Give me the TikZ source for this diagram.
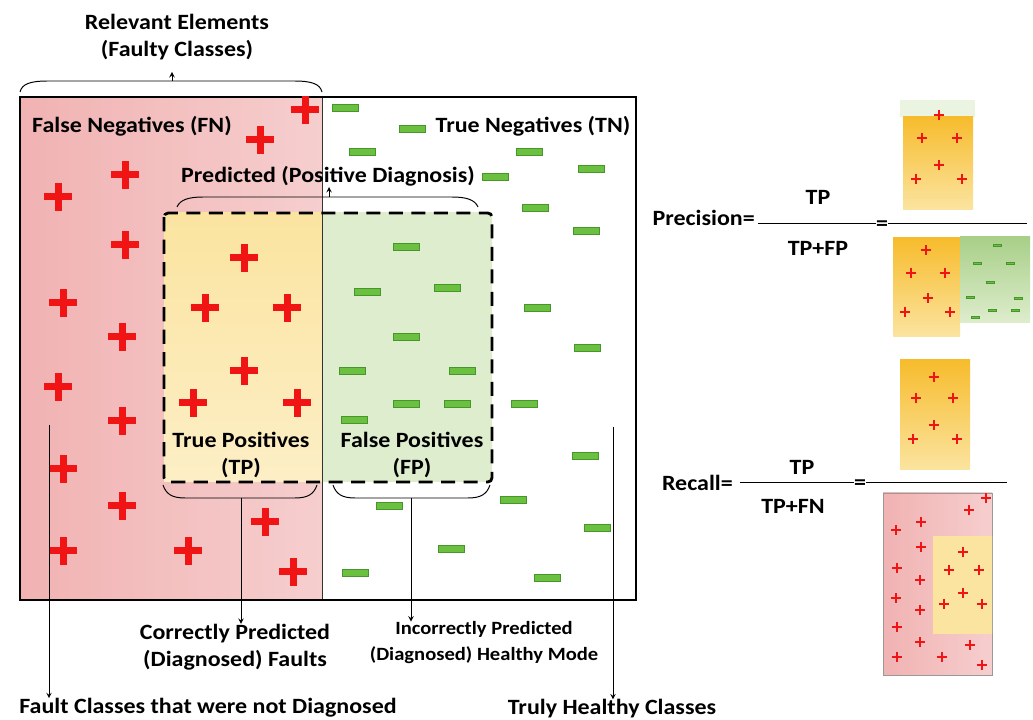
\documentclass[tikz,border=0pt]{standalone}
\usepackage{fontspec}
\setmainfont{Carlito}[FakeStretch=1.1]
\usetikzlibrary{positioning, arrows}
\definecolor{fn_deep}{RGB}{241,178,178}
\definecolor{fn_light}{RGB}{246,206,206}
\definecolor{tp_pale}{RGB}{251,228,160}
\definecolor{tp_core}{RGB}{247,188,45}
\definecolor{fp_pale}{RGB}{222,237,205}
\definecolor{fp_core}{RGB}{168,207,136}
\definecolor{minus_green}{RGB}{108,192,64}
\definecolor{minus_edge}{RGB}{70,150,45}
\definecolor{plus_red}{RGB}{240,20,20}
\tikzset{
    label_text/.style={font=\fontsize{15.5}{19}\selectfont\bfseries, text centered, align=center, inner sep=0pt},
    note_text/.style={font=\fontsize{13.3}{18.5}\selectfont\bfseries, text centered, align=center, inner sep=0pt},
    arrow/.style={line width=0.7pt, ->, >=stealth},
    brace_line/.style={line width=0.7pt},
    box_line/.style={line width=1.3pt},
    predicted_line/.style={line width=2pt, dash pattern=on 10pt off 6pt, rounded corners=3},
    faultplus/.pic={
        \fill[plus_red] (-14,-3.5) rectangle (14,3.5);
        \fill[plus_red] (-3.5,-14) rectangle (3.5,14);
    },
    healthyminus/.pic={
        \filldraw[fill=minus_green, draw=minus_edge, line width=0.5pt] (-13,-3.5) rectangle (13,3.5);
    },
}

\begin{document}
\begin{tikzpicture}[x=0.025cm, y=-0.025cm]
            \useasboundingbox (0,0) rectangle (1033,720);
            %%%%%%%%%%%%%%%%
            % MAIN REGIONS %
            %%%%%%%%%%%%%%%%
            \shade [left color=fn_deep, right color=fn_light] (20,97) rectangle (322,600);
            \shade [top color=tp_pale, middle color=tp_core, bottom color=tp_pale!60!white] (164,213) rectangle (322,482);
            \shade [top color=fp_pale, middle color=fp_core, bottom color=fp_pale] (322,213) rectangle (492,482);
            \draw [line width=0.7pt, black!80] (322,97) -- (322,600);
            \draw [box_line] (20,97) rectangle (636,600);

            \foreach \x/\y in {305/110, 260/140, 125/175, 58/197, 125/245, 244/258, 63/303,
                    205/308, 287/308, 122/337, 244/371, 58/387, 193/403, 297/403, 122/421,
                    63/469, 122/506, 265/522, 63/551, 188/551, 293/572}
                \pic at (\x,\y) {faultplus};
            \foreach \x/\y in {345/108, 412/129, 362/152, 529/152, 495/177, 591/169, 535/208,
                    586/231, 406/247, 367/292, 447/288, 406/337, 537/308, 587/348, 352/371,
                    462/371, 406/404, 457/404, 524/404, 354/420, 585/456, 513/500, 389/506,
                    597/528, 451/549, 355/573, 547/578}
                \pic at (\x,\y) {healthyminus};

            \draw [predicted_line] (164,213) rectangle (492,482);

            %%%%%%%%%%%%%%%%%
            % REGION LABELS %
            %%%%%%%%%%%%%%%%%
            \node (fn_text) [label_text] at (132,126) {False Negatives (FN)};
            \node (tn_text) [label_text] at (533,126) {True Negatives (TN)};
            \node (tp_text) [label_text] at (241,455) {True Positives \\ (TP)};
            \node (fp_text) [label_text] at (412,455) {False Positives \\ (FP)};

            %%%%%%%%%%
            % BRACES %
            %%%%%%%%%%
            \node (relevant_text) [label_text] at (177,37) {Relevant Elements \\ (Faulty Classes)};
            \coordinate (relevant_mid) at (172,81);
            \coordinate (relevant_tip) at (172,72);
            \draw [brace_line] (20,92) .. controls (22,84) and (30,81) .. (48,81)
                    -- (294,81) .. controls (312,81) and (320,84) .. (322,92);
            \draw [arrow] (relevant_mid) -- (relevant_tip);

            \node (predicted_text) [label_text] at (328,176) {Predicted (Positive Diagnosis)};
            \coordinate (predicted_mid) at (329,197);
            \coordinate (predicted_tip) at (329,187);
            \draw [brace_line] (177,207) .. controls (180,200) and (188,197) .. (203,197)
                    -- (452,197) .. controls (467,197) and (475,200) .. (478,207);
            \draw [arrow] (predicted_mid) -- (predicted_tip);

            \node (correct_text) [label_text] at (235,647) {Correctly Predicted \\ (Diagnosed) Faults};
            \coordinate (tp_mid) at (241,498);
            \draw [brace_line] (163,485) .. controls (166,494) and (172,498) .. (185,498)
                    -- (295,498) .. controls (308,498) and (314,494) .. (317,485);
            \draw [arrow] (tp_mid) -- (tp_mid |- correct_text.north);

            \node (incorrect_text) [note_text] at (484,643) {Incorrectly Predicted \\ (Diagnosed) Healthy Mode};
            \coordinate (fp_mid) at (411,498);
            \draw [brace_line] (333,485) .. controls (336,494) and (342,498) .. (355,498)
                    -- (468,498) .. controls (481,498) and (487,494) .. (490,485);
            \draw [arrow] (fp_mid) -- (fp_mid |- incorrect_text.north);

            \node (fault_text) [label_text] at (208,708) {Fault Classes that were not Diagnosed};
            \coordinate (fault_start) at (49,425);
            \draw [arrow] (fault_start) -- (fault_start |- fault_text.north);

            \node (healthy_text) [label_text] at (612,709) {Truly Healthy Classes};
            \coordinate (healthy_start) at (613,427);
            \draw [arrow] (healthy_start) -- (healthy_start |- healthy_text.north);

            %%%%%%%%%%%%%
            % PRECISION %
            %%%%%%%%%%%%%
            \node (precision_text) [label_text, anchor=east] at (755,218) {Precision=};
            \node (precision_num) [label_text] at (818,197) {TP};
            \node (precision_den) [label_text] at (818,248) {TP+FP};
            \node (precision_eq) [label_text] at (882,226) {=};
            \draw [line width=0.7pt] (758,223) -- (precision_eq.west |- 0,223);
            \draw [line width=0.7pt] (precision_eq.east |- 0,223) -- (1027,223);

            \fill [fp_pale!60!white] (900,100) rectangle (975,117);
            \shade [top color=tp_core, bottom color=tp_pale] (903,117) rectangle (973,210);
            \shade [top color=tp_core, bottom color=tp_pale] (893,238) rectangle (960,337);
            \shade [top color=fp_core, bottom color=fp_pale] (960,237) rectangle (1030,323);
            \foreach \x/\y in {939/115, 922/138, 957/138, 939/165, 916/179, 962/179,
                    926/250, 911/273, 945/273, 928/298, 905/312, 950/312}
                \pic [scale=0.36] at (\x,\y) {faultplus};
            \foreach \x/\y in {997/245, 977/263, 1010/263, 990/282, 970/297, 1018/298,
                    992/310, 1015/310, 975/317}
                \pic [scale=0.3] at (\x,\y) {healthyminus};

            %%%%%%%%%%
            % RECALL %
            %%%%%%%%%%
            \node (recall_text) [label_text, anchor=east] at (733,483) {Recall=};
            \node (recall_num) [label_text] at (802,467) {TP};
            \node (recall_den) [label_text] at (793,506) {TP+FN};
            \node (recall_eq) [label_text] at (860,485) {=};
            \draw [line width=0.7pt] (740,482) -- (recall_eq.west |- 0,482);
            \draw [line width=0.7pt] (recall_eq.east |- 0,482) -- (1007,482);

            \shade [top color=tp_core, bottom color=tp_pale] (900,360) rectangle (970,470);
            \shade [left color=fn_deep, right color=fn_light, draw=black!40] (883,493) rectangle (992,675);
            \shade [top color=tp_pale, middle color=tp_core, bottom color=tp_pale] (933,537) rectangle (992,633);
            \foreach \x/\y in {934/377, 916/398, 953/398, 934/425, 913/439, 957/439,
                    986/498, 969/510, 921/522, 896/530, 921/547, 897/568, 920/580, 896/598,
                    920/610, 897/627, 920/642, 970/645, 897/657, 942/657, 982/665,
                    963/552, 949/570, 979/570, 963/593, 944/604, 982/604}
                \pic [scale=0.36] at (\x,\y) {faultplus};
      \end{tikzpicture}
\end{document}
